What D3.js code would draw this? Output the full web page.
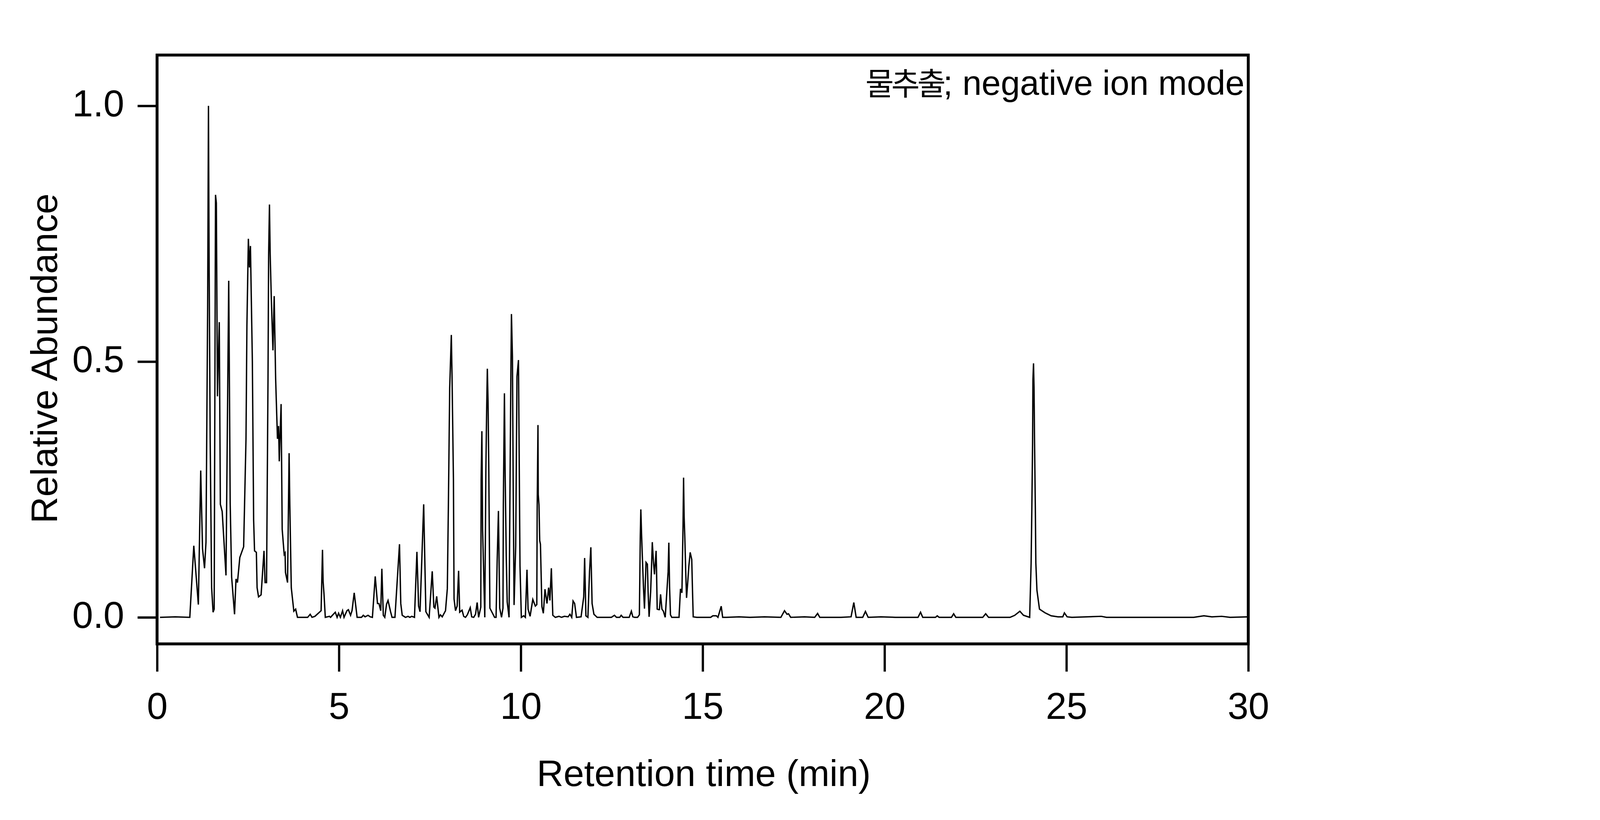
<!DOCTYPE html>
<html>
<head>
<meta charset="utf-8">
<script src="https://cdn.jsdelivr.net/npm/d3@7"></script>
<style>
  html, body { margin: 0; padding: 0; background: #fff; overflow: hidden; }
  #chart svg { display: block; }
</style>
</head>
<body>
<div id="chart"></div>
<script>
// Retention time (min) and relative abundance
var times = [
  0.08, 0.5, 0.9, 1.01, 1.135, 1.2, 1.25, 1.305, 1.345, 1.39, 1.413, 1.43, 1.46, 1.5, 1.54, 1.57,
  1.607, 1.63, 1.66, 1.71, 1.74, 1.79, 1.895, 1.97, 1.99, 2.01, 2.05, 2.13, 2.17, 2.21, 2.275, 2.38,
  2.445, 2.47, 2.51, 2.54, 2.567, 2.62, 2.655, 2.68, 2.73, 2.75, 2.79, 2.86, 2.94, 2.97, 3.01, 3.05,
  3.067, 3.09, 3.11, 3.14, 3.186, 3.22, 3.26, 3.31, 3.34, 3.36, 3.41, 3.44, 3.495, 3.52, 3.53, 3.587,
  3.63, 3.65, 3.69, 3.76, 3.81, 3.86, 3.97, 4.14, 4.21, 4.26, 4.34, 4.51, 4.548, 4.565, 4.59, 4.625,
  4.74, 4.77, 4.82, 4.9, 4.95, 4.99, 5.04, 5.1, 5.14, 5.22, 5.26, 5.32, 5.36, 5.42, 5.5, 5.62,
  5.67, 5.72, 5.8, 5.86, 5.92, 5.998, 6.06, 6.1, 6.15, 6.18, 6.22, 6.26, 6.31, 6.35, 6.42, 6.46,
  6.54, 6.665, 6.7, 6.74, 6.83, 6.9, 6.95, 7.0, 7.077, 7.144, 7.19, 7.23, 7.33, 7.39, 7.48, 7.565,
  7.61, 7.64, 7.687, 7.75, 7.79, 7.84, 7.93, 7.98, 8.01, 8.045, 8.09, 8.11, 8.148, 8.165, 8.205, 8.25,
  8.29, 8.32, 8.385, 8.43, 8.48, 8.53, 8.61, 8.65, 8.705, 8.755, 8.8, 8.84, 8.9, 8.91, 8.93, 8.95,
  9.01, 9.04, 9.06, 9.08, 9.1, 9.12, 9.15, 9.28, 9.32, 9.35, 9.385, 9.42, 9.47, 9.51, 9.52, 9.55,
  9.57, 9.6, 9.626, 9.677, 9.71, 9.73, 9.743, 9.77, 9.79, 9.815, 9.86, 9.895, 9.936, 9.955, 9.978, 10.015,
  10.08, 10.125, 10.17, 10.2, 10.255, 10.33, 10.4, 10.44, 10.45, 10.472, 10.48, 10.5, 10.52, 10.54, 10.58, 10.62,
  10.665, 10.72, 10.765, 10.8, 10.84, 10.88, 10.95, 11.05, 11.12, 11.2, 11.3, 11.35, 11.4, 11.437, 11.48, 11.53,
  11.657, 11.73, 11.755, 11.79, 11.845, 11.89, 11.926, 11.96, 12.01, 12.1, 12.49, 12.575, 12.63, 12.72, 12.76, 12.81,
  12.98, 13.04, 13.08, 13.13, 13.21, 13.26, 13.285, 13.3, 13.32, 13.345, 13.375, 13.4, 13.425, 13.443, 13.48, 13.5,
  13.527, 13.57, 13.59, 13.615, 13.645, 13.675, 13.72, 13.73, 13.75, 13.79, 13.81, 13.843, 13.88, 13.92, 13.97, 14.02,
  14.05, 14.07, 14.09, 14.115, 14.15, 14.35, 14.39, 14.43, 14.45, 14.46, 14.475, 14.49, 14.51, 14.535, 14.557, 14.595,
  14.62, 14.657, 14.7, 14.72, 14.74, 14.84, 15.13, 15.22, 15.28, 15.377, 15.42, 15.51, 15.55, 15.65, 16.0, 16.3,
  16.7, 17.15, 17.25, 17.32, 17.36, 17.42, 17.8, 18.08, 18.16, 18.22, 18.8, 19.08, 19.155, 19.22, 19.4, 19.475,
  19.55, 19.9, 20.3, 20.92, 20.99, 21.05, 21.4, 21.45, 21.5, 21.84, 21.9, 21.96, 22.7, 22.78, 22.86, 23.45,
  23.58, 23.72, 23.82, 23.99, 24.03, 24.05, 24.07, 24.08, 24.096, 24.11, 24.125, 24.146, 24.16, 24.19, 24.26, 24.41,
  24.58, 24.77, 24.9, 24.945, 25.02, 25.15, 25.96, 26.1, 27.0, 28.5, 28.78, 29.0, 29.27, 29.5, 29.98
]
var abundance = [
  0, 0.001, 0, 0.14, 0.025, 0.287, 0.134, 0.096, 0.147, 0.6, 1.0, 0.706, 0.349, 0.058, 0.01, 0.016,
  0.826, 0.81, 0.432, 0.577, 0.221, 0.207, 0.082, 0.658, 0.45, 0.224, 0.079, 0.006, 0.075, 0.068, 0.117, 0.138,
  0.349, 0.57, 0.74, 0.684, 0.726, 0.5, 0.19, 0.13, 0.127, 0.058, 0.04, 0.044, 0.13, 0.068, 0.068, 0.466,
  0.709, 0.807, 0.709, 0.626, 0.522, 0.628, 0.466, 0.349, 0.374, 0.305, 0.417, 0.172, 0.123, 0.126, 0.088, 0.068,
  0.321, 0.22, 0.058, 0.012, 0.016, 0, 0, 0, 0.006, 0, 0.002, 0.013, 0.132, 0.07, 0.045, 0,
  0.002, 0, 0.004, 0.01, 0, 0.008, 0, 0.013, 0, 0.013, 0.015, 0.004, 0.013, 0.048, 0, 0,
  0.004, 0.001, 0.004, 0.001, 0, 0.08, 0.027, 0.027, 0.013, 0.095, 0.004, 0, 0.026, 0.033, 0.011, 0,
  0, 0.143, 0.027, 0.004, 0, 0.002, 0, 0.002, 0, 0.128, 0.022, 0.011, 0.221, 0.011, 0, 0.09,
  0.02, 0.018, 0.041, 0, 0.005, 0.001, 0.013, 0.056, 0.224, 0.448, 0.552, 0.47, 0.269, 0.036, 0.013, 0.022,
  0.091, 0.01, 0.014, 0.002, 0, 0.005, 0.019, 0.001, 0, 0.006, 0.029, 0, 0.02, 0.269, 0.364, 0.17,
  0, 0.29, 0.4, 0.486, 0.42, 0.29, 0.018, 0, 0, 0.11, 0.208, 0.018, 0, 0.018, 0.22, 0.438,
  0.28, 0.12, 0.03, 0, 0.32, 0.5, 0.593, 0.51, 0.27, 0.024, 0.14, 0.471, 0.503, 0.32, 0.1, 0,
  0.003, 0, 0.093, 0.016, 0.002, 0.035, 0.022, 0.025, 0.21, 0.376, 0.24, 0.22, 0.15, 0.143, 0.021, 0.008,
  0.055, 0.027, 0.058, 0.033, 0.096, 0.004, 0, 0.002, 0, 0.002, 0.001, 0.006, 0, 0.032, 0.027, 0,
  0.001, 0.04, 0.116, 0.003, 0, 0.09, 0.137, 0.027, 0.006, 0, 0, 0.004, 0, 0, 0.004, 0,
  0, 0.012, 0.001, 0, 0, 0.005, 0.158, 0.211, 0.163, 0.112, 0.055, 0.017, 0.07, 0.1075, 0.104, 0.05,
  0.001, 0.05, 0.09, 0.147, 0.11, 0.084, 0.13, 0.1, 0.016, 0.015, 0.015, 0.045, 0.016, 0.012, 0, 0.055,
  0.089, 0.146, 0.06, 0.005, 0, 0, 0.0556, 0.048, 0.137, 0.177, 0.273, 0.198, 0.155, 0.087, 0.038, 0.074,
  0.1, 0.127, 0.113, 0.054, 0.001, 0, 0, 0, 0.003, 0.003, 0, 0.0217, 0, 0, 0.001, 0,
  0.001, 0, 0.013, 0.006, 0.007, 0, 0.001, 0, 0.0077, 0, 0, 0.001, 0.029, 0, 0, 0.0115,
  0, 0.001, 0, 0, 0.01, 0, 0, 0.003, 0, 0, 0.007, 0, 0, 0.007, 0, 0,
  0.004, 0.012, 0.004, 0, 0.106, 0.213, 0.339, 0.464, 0.4966, 0.45, 0.34, 0.213, 0.106, 0.053, 0.016, 0.009,
  0.003, 0.001, 0.001, 0.0087, 0.001, 0, 0.002, 0, 0, 0, 0.003, 0.001, 0.002, 0, 0.001
]
var xTicks = [0, 5, 10, 15, 20, 25, 30]
var yTicks = [0.0, 0.5, 1.0]
var xTitle = 'Retention time (min)'
var yTitle = 'Relative Abundance'
var sampleName = '물추출'
var modeName = '; negative ion mode'

// Layout is worked out for a 6000 x 2100 page, then stretched to the window
var width = window.innerWidth || 6000
var height = window.innerHeight || 2100
var sx = width / 6000
var sy = height / 2100
var sf = Math.sqrt(sx * sy) // for fonts and strokes

var frame = { left: 589 * sx, right: 4681 * sx, top: 141 * sy, bottom: 1649 * sy }
var fontFamily = "'Liberation Sans', Arial, sans-serif"

var svg = d3
  .select('#chart')
  .append('svg')
  .attr('width', width)
  .attr('height', height)

svg.append('rect')
  .attr('width', width)
  .attr('height', height)
  .attr('fill', '#ffffff')

var xPositionScale = d3
  .scaleLinear()
  .domain([0, 30])
  .range([frame.left, frame.right])
var yPositionScale = d3
  .scaleLinear()
  .domain([0, 1])
  .range([1581 * sy, 271 * sy])

var points = times.map((t, i) => ({ time: t, value: abundance[i] }))

var line = d3
  .line()
  .x(d => xPositionScale(d.time))
  .y(d => yPositionScale(d.value))

svg.append('path')
  .datum(points)
  .attr('d', line)
  .attr('fill', 'none')
  .attr('stroke', '#000000')
  .attr('stroke-width', 4.2 * sf)
  .attr('stroke-linejoin', 'miter')

// box round the plot
svg.append('rect')
  .attr('x', frame.left)
  .attr('y', frame.top)
  .attr('width', frame.right - frame.left)
  .attr('height', frame.bottom - frame.top)
  .attr('fill', 'none')
  .attr('stroke', '#000000')
  .attr('stroke-width', 9 * sf)

var xAxis = d3
  .axisBottom(xPositionScale)
  .tickValues(xTicks)
  .tickFormat(d3.format('d'))
  .tickSize(71 * sy)
  .tickPadding(53 * sy)
var yAxis = d3
  .axisLeft(yPositionScale)
  .tickValues(yTicks)
  .tickFormat(d3.format('.1f'))
  .tickSize(73 * sx)
  .tickPadding(50 * sx)

svg.append('g')
  .attr('class', 'x-axis')
  .attr('transform', `translate(0,${frame.bottom})`)
  .call(xAxis)
svg.append('g')
  .attr('class', 'y-axis')
  .attr('transform', `translate(${frame.left},0)`)
  .call(yAxis)

svg.selectAll('.x-axis, .y-axis').each(function() {
  var g = d3.select(this)
  g.select('.domain').remove()
  g.selectAll('line').attr('stroke', '#000000').attr('stroke-width', 7 * sf)
  g.selectAll('text')
    .attr('fill', '#000000')
    .attr('font-family', fontFamily)
    .attr('font-size', 116 * sf)
})
svg.selectAll('.y-axis text').attr('dy', '0.28em')

svg.append('text')
  .text(xTitle)
  .attr('x', (frame.left + frame.right) / 2 + 4 * sx)
  .attr('y', 2013 * sy)
  .attr('text-anchor', 'middle')
  .attr('font-family', fontFamily)
  .attr('font-size', 115 * sf)
  .attr('fill', '#000000')

svg.append('text')
  .text(yTitle)
  .attr('transform', `translate(${214 * sx},${918 * sy}) rotate(-90)`)
  .attr('text-anchor', 'middle')
  .attr('font-family', fontFamily)
  .attr('font-size', 115 * sf)
  .attr('fill', '#000000')

// sample label, top right inside the box
var label = svg.append('text')
  .attr('x', frame.right - 14 * sx)
  .attr('y', 243 * sy)
  .attr('text-anchor', 'end')
  .attr('font-family', fontFamily)
  .attr('font-size', 107 * sf)
  .attr('fill', '#000000')
label.append('tspan')
  .text(sampleName)
  .attr('font-family', "'Noto Sans CJK KR', sans-serif")
  .attr('font-size', 96 * sf)
  .attr('letter-spacing', -8 * sf)
label.append('tspan')
  .text(modeName)
</script>
</body>
</html>
